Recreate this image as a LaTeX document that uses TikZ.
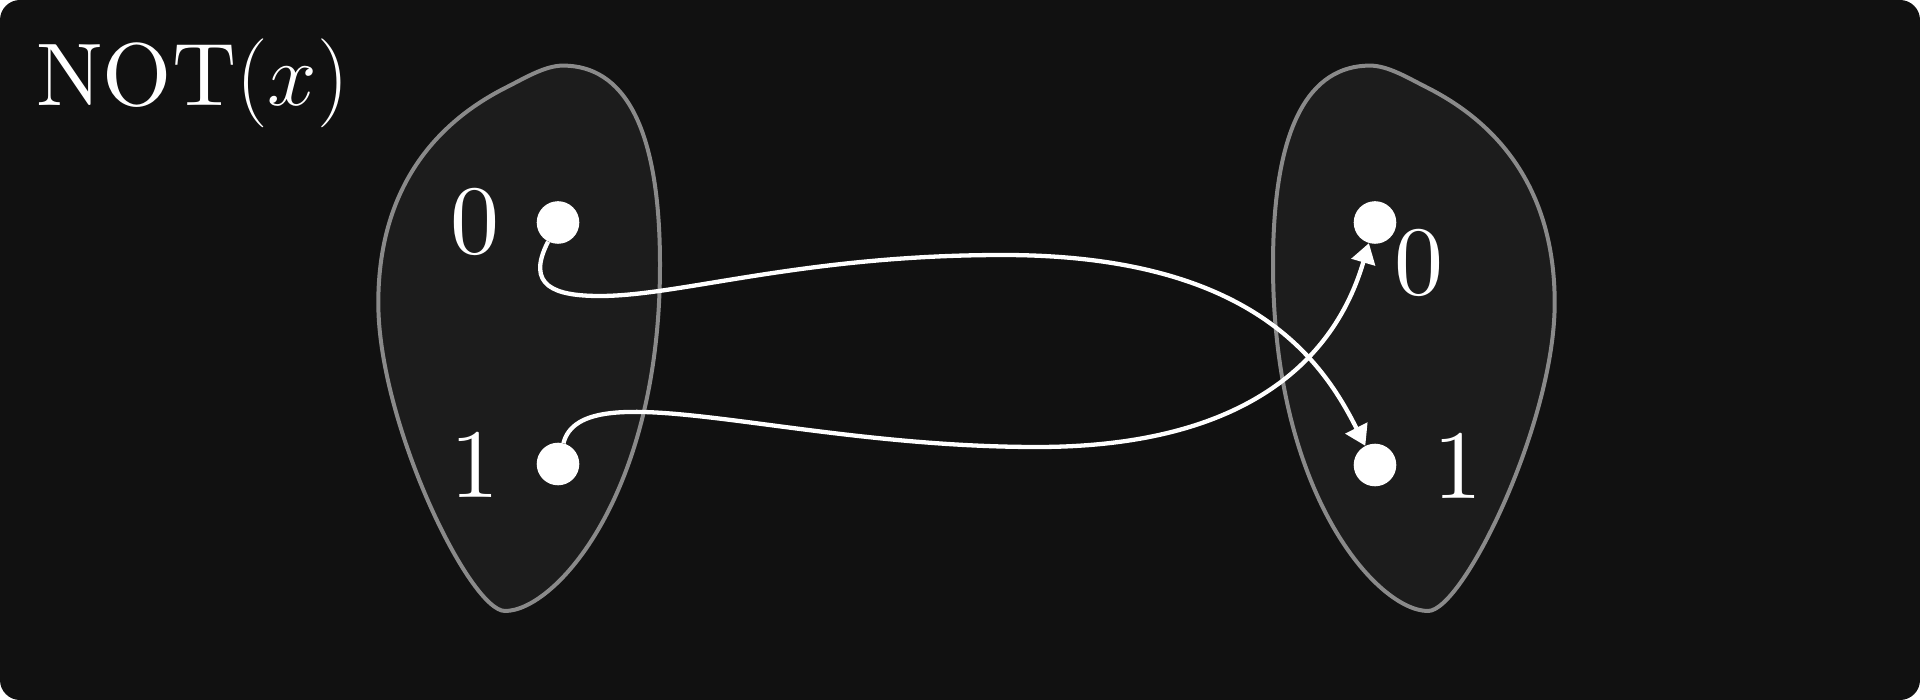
\RequirePackage{fix-cm}
\documentclass[tikz,border=0pt]{standalone}
\usepackage{fontspec}
\setmainfont{lmroman10-regular.otf}[ItalicFont=lmroman10-italic.otf]
\usetikzlibrary{arrows.meta}
\definecolor{bgc}{HTML}{111111}
\definecolor{blobfill}{HTML}{1C1C1C}
\definecolor{blobline}{HTML}{8A8A8A}
\newcommand\myblob{(507,87) .. controls (524.9,78) and (545,65.6) .. (563,65.6) .. controls (623,65.6) and (660,125) .. (660,265) .. controls (660,495) and (555,611) .. (505,611) .. controls (470,611) and (378.3,423) .. (378.3,303) .. controls (378.3,203) and (422,129.5) .. cycle}
\begin{document}
\begin{tikzpicture}[x=1pt,y=-1pt,
  blob/.style={fill=blobfill, draw=blobline, line width=4pt},
  dot/.style={circle, fill=white, inner sep=0pt, minimum size=42.6pt},
  lbl/.style={text=white, anchor=base, inner sep=0pt, font=\fontsize{98}{100}\selectfont},
  conn/.style={draw=white, line width=4.3pt, -{Triangle[length=20pt,width=24pt]}}]
\fill[white] (0,0) rectangle (1920,700);
\fill[bgc, rounded corners=20pt] (0,0) rectangle (1920,700);
\useasboundingbox (0,0) rectangle (1920,700);
% sets
\draw[blob] \myblob;
\begin{scope}[shift={(1933,0)}, xscale=-1]
  \draw[blob] \myblob;
\end{scope}
% title
\node[anchor=base west, inner sep=0pt, text=white, font=\fontsize{89}{92}\selectfont] (title) at (36,106) {NOT$(x)$};
% elements
\node[dot] (a0) at (558,222.5) {};
\node[dot] (a1) at (558,464) {};
\node[dot] (b0) at (1375,222.5) {};
\node[dot] (b1) at (1375,465) {};
\node[lbl] (la0) at (475,254) {0};
\node[lbl] (la1) at (474.5,497) {1};
\node[lbl] (lb0) at (1419,295) {0};
\node[lbl] (lb1) at (1458,498) {1};
% mapping
\draw[conn] (a0) .. controls (525,286.3) and (555,296) .. (600,296)
  .. controls (680,296) and (803,255) .. (1003,255)
  .. controls (1253,255) and (1323,362) .. (b1);
\draw[conn] (a1) .. controls (582.4,370.6) and (787,447) .. (1037,447)
  .. controls (1287,447) and (1345.6,322.2) .. (b0);
\end{tikzpicture}
\end{document}
